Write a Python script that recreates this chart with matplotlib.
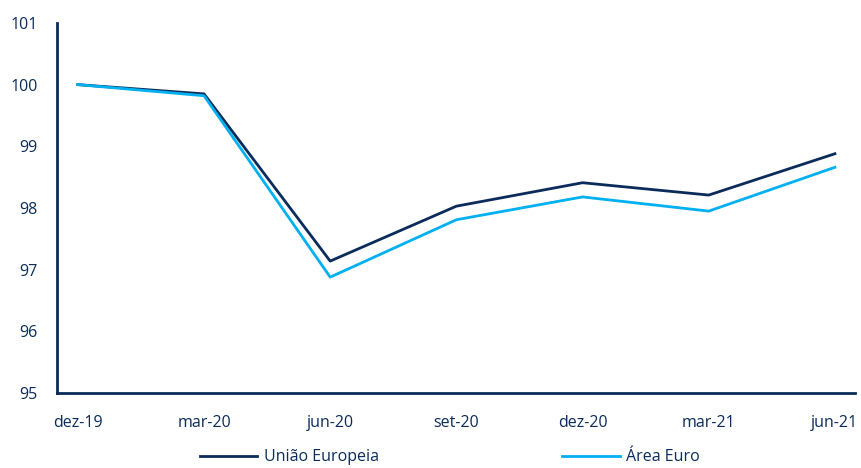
import matplotlib
matplotlib.use("Agg")
import matplotlib.pyplot as plt

categories = ["dez-19", "mar-20", "jun-20", "set-20", "dez-20", "mar-21", "jun-21"]
uniao_europeia = [100.0, 99.85, 97.14, 98.03, 98.41, 98.21, 98.88]
area_euro = [100.0, 99.82, 96.88, 97.81, 98.18, 97.95, 98.66]
y_ticks = [95, 96, 97, 98, 99, 100, 101]

navy = "#0B2C5A"
light = "#00B0F0"

plt.rcParams['font.family'] = ['Open Sans', 'DejaVu Sans']

fig = plt.figure(figsize=(8.62, 4.68), dpi=100)
ax = fig.add_axes([0.066, 0.16, 0.926, 0.791])
x = list(range(len(categories)))
ax.plot(x, uniao_europeia, color=navy, lw=2, label="União Europeia")
ax.plot(x, area_euro, color=light, lw=2, label="Área Euro")

ax.set_ylim(95, 101)
ax.set_yticks(y_ticks)
ax.set_xlim(-0.166, 6.16)
ax.set_xticks(x)
ax.set_xticklabels(categories)
for s in ["top", "right"]:
    ax.spines[s].set_visible(False)
for s in ["left", "bottom"]:
    ax.spines[s].set_color(navy)
    ax.spines[s].set_linewidth(2)
ax.tick_params(axis="both", length=0, labelsize=11.5, colors=navy)
ax.tick_params(axis="y", pad=14)
ax.tick_params(axis="x", pad=16)

fig.legend(loc="lower center", bbox_to_anchor=(0.522, -0.025), ncol=2, frameon=False,
           fontsize=11.5, labelcolor=navy, columnspacing=11.5, handlelength=3.6, handletextpad=0.4)

fig.savefig("out.png", dpi=100)
